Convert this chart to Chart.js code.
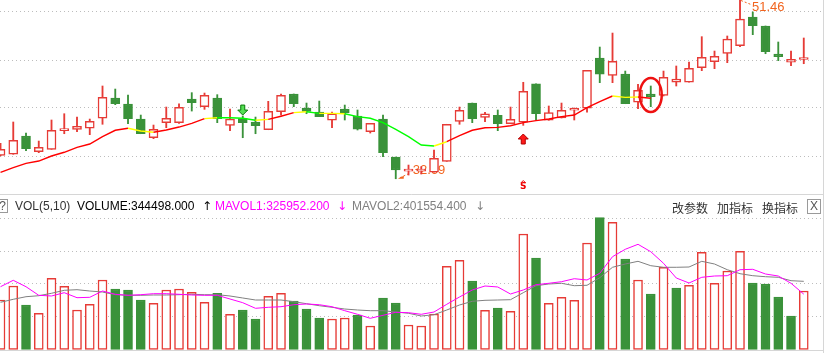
<!DOCTYPE html>
<html>
<head>
<meta charset="utf-8">
<script src="https://cdn.jsdelivr.net/npm/chart.js@4.4.1/dist/chart.umd.min.js"></script>
<style>
  html, body { margin: 0; padding: 0; background: #fff; overflow: hidden; }
  #wrap { position: relative; width: 830px; height: 353px; }
  #kline { position: absolute; left: 0; top: 0; }
  .hd { position: absolute; top: 199px; height: 14px; line-height: 14px; white-space: nowrap;
        font: 12px "Liberation Sans", Arial, "DejaVu Sans", sans-serif; }
  .cn { font-family: "Noto Sans CJK SC", sans-serif; color: #333; }
  .box { border: 1px solid #9a9a9a; box-sizing: border-box; text-align: center; color: #555; }
</style>
</head>
<body>
<div id="wrap">
  <canvas id="kline" width="830" height="353"></canvas>
  <div class="hd box" style="left:-5px;width:13px;height:14px;line-height:12px;text-align:right;padding-right:1px;">?</div>
  <div class="hd" style="left:15px;color:#333;">VOL(5,10)</div>
  <div class="hd" id="vVol" style="left:77px;color:#000;"></div>
  <div class="hd" style="left:202px;color:#000;font-family:'DejaVu Sans';font-size:12px;">↑</div>
  <div class="hd" id="vMa1" style="left:215px;color:#ff00ff;"></div>
  <div class="hd" style="left:337px;color:#ff00ff;font-family:'DejaVu Sans';font-size:12px;">↓</div>
  <div class="hd" id="vMa2" style="left:352px;color:#808080;"></div>
  <div class="hd" style="left:475px;color:#808080;font-family:'DejaVu Sans';font-size:12px;">↓</div>
  <div class="hd cn" style="left:672px;">改参数</div>
  <div class="hd cn" style="left:717px;">加指标</div>
  <div class="hd cn" style="left:762px;">换指标</div>
  <div class="hd box" style="left:807px;width:14px;height:15px;line-height:13px;">X</div>
</div>
<script>
(function () {
  // K线数据
  const opens = [35.15, 35.26, 37.18, 35.53, 35.78, 37.74, 37.88, 37.99, 39.04, 41.17,
    40.54, 38.96, 37.00, 38.58, 38.58, 41.06, 40.26, 41.17, 38.30, 39.00,
    38.65, 37.84, 39.73, 41.59, 40.12, 39.70, 38.83, 40.01, 39.28, 37.63,
    38.96, 34.97, 33.49, 33.49, 33.37, 34.52, 38.72, 40.64, 39.14, 39.35,
    38.47, 38.62, 42.67, 38.83, 39.07, 39.88, 40.09, 45.37, 43.55, 43.69,
    40.72, 41.59, 41.45, 42.82, 42.82, 44.35, 44.98, 45.86, 46.66, 49.67,
    48.73, 45.79, 44.92, 45.21];
  const closes = [35.78, 36.73, 35.85, 35.99, 37.78, 37.88, 38.20, 38.72, 41.24, 40.57,
    39.00, 37.42, 37.88, 39.04, 40.19, 40.68, 41.45, 39.00, 38.96, 38.58,
    38.26, 39.77, 41.45, 40.57, 39.77, 39.21, 39.52, 39.63, 37.91, 38.51,
    35.43, 33.61, 33.51, 33.51, 34.84, 38.41, 39.88, 39.00, 39.52, 38.47,
    38.93, 41.87, 39.52, 39.63, 39.88, 40.10, 44.08, 43.66, 45.02, 40.57,
    41.98, 41.31, 43.34, 43.16, 44.29, 45.44, 45.55, 47.36, 49.46, 48.76,
    46.03, 45.51, 45.23, 45.23];
  const highs = [36.41, 38.65, 37.49, 36.65, 38.86, 39.52, 39.17, 38.96, 42.43, 42.11,
    41.48, 39.38, 38.33, 40.22, 40.57, 41.73, 41.69, 41.52, 40.01, 39.28,
    39.17, 40.82, 41.59, 41.59, 40.64, 40.85, 39.70, 40.43, 39.91, 38.51,
    39.38, 34.97, 34.13, 33.96, 35.71, 38.41, 40.22, 40.64, 39.67, 39.91,
    40.22, 42.82, 42.67, 40.33, 40.64, 40.12, 44.08, 46.52, 47.99, 44.00,
    42.61, 42.43, 44.00, 44.53, 44.95, 47.61, 46.10, 47.68, 51.46, 50.20,
    48.73, 47.05, 46.10, 47.47];
  const lows = [35.10, 35.26, 35.64, 35.43, 35.78, 37.42, 37.63, 37.32, 38.41, 40.47,
    38.47, 37.42, 36.90, 38.05, 38.51, 39.80, 39.98, 38.58, 37.74, 37.00,
    37.42, 37.84, 39.38, 40.26, 39.52, 39.21, 38.05, 38.86, 37.81, 37.49,
    35.01, 32.69, 33.08, 33.19, 33.37, 34.52, 38.41, 38.58, 38.68, 37.74,
    38.47, 38.30, 38.86, 38.83, 39.07, 38.86, 39.67, 42.78, 42.78, 40.57,
    40.05, 40.26, 41.38, 42.43, 42.82, 44.04, 44.25, 44.88, 46.56, 47.82,
    45.82, 45.09, 44.56, 44.77];

  // 趋势均线（到第51根为止），及每段的状态 1涨 0平 -1跌
  const trendLine = [33.37, 33.85, 34.31, 34.55, 35.08, 35.47, 35.99, 36.34, 37.11, 37.78,
    37.99, 37.70, 37.57, 37.81, 38.12, 38.51, 39.00, 39.10, 39.10, 39.04,
    38.83, 38.93, 39.25, 39.63, 39.73, 39.56, 39.56, 39.52, 39.21, 39.04,
    38.58, 37.88, 37.11, 36.23, 36.13, 36.58, 37.21, 37.78, 38.05, 38.09,
    38.26, 38.58, 38.79, 38.96, 39.21, 39.38, 40.15, 40.78, 41.38, 41.24,
    41.27, 41.14];
  const trendState = [1, 1, 1, 1, 1, 1, 1, 1, 1, 1,
    0, 0, 1, 1, 1, 1, 0, -1, -1, -1,
    0, 1, 1, 0, -1, 0, 0, -1, -1, -1,
    -1, -1, -1, -1, 0, 1, 1, 1, 1, 1,
    1, 1, 1, 1, 1, 1, 1, 1, 0, 0, 1];

  // 成交量
  const volumes = [291500, 374000, 262100, 213200, 419300, 372200, 232600, 266200, 409300, 356300,
    350400, 291500, 272100, 350400, 356300, 336900, 278000, 331000, 207300, 232600,
    179600, 313300, 331000, 285600, 238500, 185500, 179600, 185500, 203200, 138400,
    303300, 273800, 144300, 138400, 209100, 490000, 525300, 403400, 230800, 244400,
    225000, 680200, 538800, 272100, 307400, 289700, 627200, 776200, 749100, 533000,
    409300, 326800, 484100, 362200, 378100, 572400, 389900, 462300, 578300, 391600,
    385700, 309200, 197300, 344498];
  const volDir = [1, 1, -1, 1, 1, 1, 1, 1, 1, -1,
    -1, -1, 1, 1, 1, 1, 1, -1, 1, -1,
    -1, 1, 1, -1, -1, -1, 1, 1, -1, 1,
    -1, -1, 1, 1, 1, 1, 1, -1, 1, -1,
    1, 1, -1, 1, 1, 1, 1, -1, 1, -1,
    1, -1, 1, -1, 1, 1, 1, 1, 1, -1,
    -1, -1, -1, 1];
  const mavol1 = [369800, 407500, 369800, 319200, 315100, 334500, 305100, 307400, 344500, 325100,
    319200, 322700, 328600, 328600, 325100, 321000, 319200, 319200, 297400, 275600,
    242600, 248500, 252000, 263800, 268000, 263800, 252000, 228500, 207300, 183700,
    201400, 219100, 216700, 207300, 220800, 266200, 309200, 350400, 374000, 368100,
    326800, 350400, 381600, 389900, 399300, 416900, 409300, 448700, 546500, 590100,
    619500, 575900, 507600, 421100, 391600, 425200, 432800, 434600, 469900, 472300,
    444600, 432800, 389900, 325952.2];
  const mavol2 = [278000, 295600, 310900, 316800, 331000, 348600, 352200, 344500, 338600, 322700,
    319200, 319200, 321000, 321000, 322700, 325100, 322700, 322700, 315100, 303300,
    291500, 291500, 291500, 281500, 269700, 257900, 248500, 238500, 232600, 228500,
    228500, 220800, 213200, 197300, 204900, 232600, 262100, 283900, 289700, 291500,
    293300, 334500, 375700, 385700, 389900, 375700, 378100, 422800, 484100, 503500,
    519400, 493500, 484100, 484100, 485800, 519400, 503500, 469900, 446400, 434600,
    428700, 425200, 405200, 401554.4];

  // 网格线所在数值
  const priceGrid = [35.08, 40.12, 45.16, 50.20];
  const volGrid = [193000, 386000, 579000, 772000];

  // 信号标记
  const signalIdx = [19, 41];
  const signalSide = ['sell', 'buy'];
  const signalPrice = [39.38, 37.39];
  const sMarkIdx = 41, sMarkPrice = 31.93;
  const circleIdx = 51, circlePrice = 41.49;

  const RED = '#e63b36';
  const GREEN = '#3a923a';
  const ORANGE = '#f2641e';
  const trendColor = { '1': '#ff0000', '0': '#ffff00', '-1': '#00ff00' };

  document.getElementById('vVol').textContent = 'VOLUME:' + volumes[volumes.length - 1].toFixed(3);
  document.getElementById('vMa1').textContent = 'MAVOL1:' + mavol1[mavol1.length - 1].toFixed(3);
  document.getElementById('vMa2').textContent = 'MAVOL2:' + mavol2[mavol2.length - 1].toFixed(3);

  const up = closes.map((c, i) => c >= opens[i]);
  const pts = (arr) => arr.map((v, i) => ({ x: i, y: v }));

  function arrow(ctx, cx, tipY, side) {
    const s = side === 'buy' ? 1 : -1;
    ctx.save();
    ctx.beginPath();
    ctx.moveTo(cx, tipY);
    ctx.lineTo(cx + 5, tipY + s * 5);
    ctx.lineTo(cx + 2, tipY + s * 5);
    ctx.lineTo(cx + 2, tipY + s * 10);
    ctx.lineTo(cx - 2, tipY + s * 10);
    ctx.lineTo(cx - 2, tipY + s * 5);
    ctx.lineTo(cx - 5, tipY + s * 5);
    ctx.closePath();
    ctx.fillStyle = side === 'buy' ? '#ff1a1a' : '#55e055';
    ctx.strokeStyle = side === 'buy' ? '#b00000' : '#0a7a0a';
    ctx.lineWidth = 1;
    ctx.fill();
    ctx.stroke();
    ctx.restore();
  }

  const marks = {
    id: 'marks',
    beforeDatasetsDraw(chart) {
      const { ctx, scales: { x, y } } = chart;
      // 最低价标注
      let lo = 0;
      lows.forEach((v, i) => { if (v < lows[lo]) lo = i; });
      const lx = x.getPixelForValue(lo), ly = y.getPixelForValue(lows[lo]);
      ctx.save();
      ctx.strokeStyle = ORANGE;
      ctx.fillStyle = ORANGE;
      ctx.lineWidth = 1;
      ctx.setLineDash([2, 2]);
      ctx.beginPath();
      ctx.moveTo(lx + 4, ly - 1);
      ctx.lineTo(lx + 15, ly - 6);
      ctx.stroke();
      ctx.setLineDash([]);
      ctx.beginPath();
      ctx.moveTo(lx + 2, ly);
      ctx.lineTo(lx + 8, ly - 3);
      ctx.lineTo(lx + 8, ly);
      ctx.closePath();
      ctx.fill();
      ctx.font = '13px "Liberation Sans", Arial, sans-serif';
      ctx.textBaseline = 'alphabetic';
      ctx.fillText(lows[lo].toFixed(2), lx + 17, ly - 5);
      ctx.restore();
    },
    afterDatasetsDraw(chart) {
      const { ctx, scales: { x, y } } = chart;
      // 最高价标注
      let hi = 0;
      highs.forEach((v, i) => { if (v > highs[hi]) hi = i; });
      const hx = x.getPixelForValue(hi), hy = y.getPixelForValue(highs[hi]);
      ctx.save();
      ctx.strokeStyle = ORANGE;
      ctx.fillStyle = ORANGE;
      ctx.lineWidth = 1;
      ctx.setLineDash([2, 2]);
      ctx.beginPath();
      ctx.moveTo(hx + 1, hy + 0.5);
      ctx.lineTo(hx + 11, hy + 4.5);
      ctx.stroke();
      ctx.setLineDash([]);
      ctx.font = '13px "Liberation Sans", Arial, sans-serif';
      ctx.fillText(highs[hi].toFixed(2), hx + 12, hy + 11);
      ctx.restore();

      signalIdx.forEach((i, k) => {
        arrow(ctx, x.getPixelForValue(i), y.getPixelForValue(signalPrice[k]), signalSide[k]);
      });

      // S 标记
      const sx = x.getPixelForValue(sMarkIdx), sy = y.getPixelForValue(sMarkPrice);
      ctx.save();
      ctx.fillStyle = '#ee0000';
      ctx.font = 'bold 9px "DejaVu Sans", sans-serif';
      ctx.textAlign = 'center';
      ctx.textBaseline = 'middle';
      ctx.fillText('S', sx, sy + 1);
      ctx.strokeStyle = '#ee0000';
      ctx.lineWidth = 1;
      ctx.beginPath();
      ctx.moveTo(sx - 2.5, sy - 3);
      ctx.lineTo(sx, sy - 5.5);
      ctx.lineTo(sx + 2.5, sy - 3);
      ctx.stroke();
      ctx.restore();

      // 红圈
      ctx.save();
      ctx.strokeStyle = '#ee1111';
      ctx.lineWidth = 2.5;
      ctx.beginPath();
      ctx.ellipse(x.getPixelForValue(circleIdx), y.getPixelForValue(circlePrice), 11, 17, 0, 0, Math.PI * 2);
      ctx.stroke();
      ctx.restore();
    },
    afterDraw(chart) {
      const { ctx, chartArea } = chart;
      const r = Math.round(chartArea.right) + 1.5;
      ctx.save();
      ctx.strokeStyle = '#d6d6d6';
      ctx.lineWidth = 1;
      ctx.beginPath();
      ctx.moveTo(r, 0); ctx.lineTo(r, chart.height);
      ctx.moveTo(0, 194.5); ctx.lineTo(r, 194.5);
      ctx.moveTo(0, 350.5); ctx.lineTo(r, 350.5);
      ctx.stroke();
      ctx.restore();
    }
  };

  const gridAxis = (min, max, ticks) => ({
    min, max,
    position: 'left',
    ticks: { display: false },
    grid: { color: '#bdbdbd', lineWidth: 1, drawTicks: false },
    border: { display: false, dash: [1, 3] },
    afterBuildTicks: (s) => { s.ticks = ticks.map(v => ({ value: v })); }
  });

  // eslint-disable-next-line no-undef
  new Chart(document.getElementById('kline'), {
    type: 'bar',
    data: {
      datasets: [
        {
          type: 'line', order: 0, yAxisID: 'y',
          data: pts(trendLine),
          borderWidth: 1.4, pointRadius: 0, tension: 0, borderColor: '#ff0000',
          segment: { borderColor: (c) => trendColor[String(trendState[c.p0DataIndex])] }
        },
        {
          type: 'line', order: 0, yAxisID: 'yv',
          data: pts(mavol1), borderColor: '#ff00ff', borderWidth: 1, pointRadius: 0, tension: 0
        },
        {
          type: 'line', order: 0, yAxisID: 'yv',
          data: pts(mavol2), borderColor: '#808080', borderWidth: 1, pointRadius: 0, tension: 0
        },
        {
          order: 1, yAxisID: 'y', grouped: false,
          data: opens.map((o, i) => ({ x: i, y: [o, closes[i]] })),
          backgroundColor: up.map(u => u ? '#ffffff' : GREEN),
          borderColor: up.map(u => u ? RED : GREEN),
          borderWidth: 1.5, borderSkipped: false, barThickness: 9, minBarLength: 2
        },
        {
          order: 1, yAxisID: 'yv', grouped: false,
          data: pts(volumes),
          backgroundColor: volDir.map(d => d > 0 ? '#ffffff' : GREEN),
          borderColor: volDir.map(d => d > 0 ? RED : GREEN),
          borderWidth: 1.5, borderSkipped: false, barThickness: 9
        },
        {
          order: 2, yAxisID: 'y', grouped: false,
          data: lows.map((l, i) => ({ x: i, y: [l, highs[i]] })),
          backgroundColor: up.map(u => u ? RED : GREEN),
          borderWidth: 0, barThickness: 1.2
        }
      ]
    },
    options: {
      responsive: false,
      animation: false,
      events: [],
      layout: { padding: { left: 0, right: 8, top: 0, bottom: 0 } },
      plugins: { legend: { display: false }, tooltip: { enabled: false } },
      scales: {
        x: { type: 'linear', min: -0.04, max: 64.43, offset: false, display: false },
        y: gridAxis(14.395, 51.46, priceGrid),
        yv: gridAxis(-20612, 2058206, volGrid)
      }
    },
    plugins: [marks]
  });
})();
</script>
</body>
</html>
